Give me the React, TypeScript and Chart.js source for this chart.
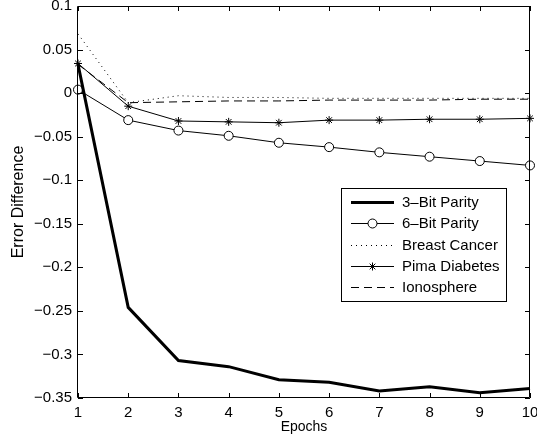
import React, { useEffect, useRef } from 'react';
import { Chart, registerables } from 'chart.js';

Chart.register(...registerables);

// ---- data ----
const epochs = [1, 2, 3, 4, 5, 6, 7, 8, 9, 10];
const parity3 = [0.033, -0.246, -0.307, -0.314, -0.329, -0.332, -0.342, -0.337, -0.344, -0.339];
const parity6 = [0.004, -0.031, -0.043, -0.049, -0.057, -0.062, -0.068, -0.073, -0.078, -0.083];
const breastCancer = [0.068, -0.011, -0.003, -0.005, -0.005, -0.006, -0.006, -0.006, -0.006, -0.006];
const pimaDiabetes = [0.034, -0.015, -0.032, -0.033, -0.034, -0.031, -0.031, -0.030, -0.030, -0.029];
const ionosphere = [0.033, -0.011, -0.010, -0.009, -0.009, -0.008, -0.008, -0.008, -0.007, -0.007];
const seriesNames = ['3\u2013Bit Parity', '6\u2013Bit Parity', 'Breast Cancer', 'Pima Diabetes', 'Ionosphere'];
const yTicks = [0.1, 0.05, 0, -0.05, -0.1, -0.15, -0.2, -0.25, -0.3, -0.35];
const xTicks = epochs;
const xTitle = 'Epochs';
const yTitle = 'Error Difference';

const FONT = '"Liberation Sans", Arial, Helvetica, sans-serif';
const FS = 15;

function fmt(v: number): string {
  const r = Math.round(v * 100) / 100;
  return r < 0 ? '\u2212' + String(Math.abs(r)) : String(r);
}

function pts(values: number[]) {
  return epochs.map((e, i) => ({ x: e, y: values[i] }));
}

function drawMarker(ctx: CanvasRenderingContext2D, style: string, x: number, y: number, r: number) {
  ctx.save();
  ctx.strokeStyle = '#000';
  ctx.lineWidth = 1;
  ctx.setLineDash([]);
  if (style === 'circle') {
    ctx.beginPath();
    ctx.arc(x, y, r, 0, Math.PI * 2);
    ctx.fillStyle = '#fff';
    ctx.fill();
    ctx.stroke();
  } else if (style === 'star') {
    ctx.beginPath();
    for (let k = 0; k < 4; k++) {
      const a = (k * Math.PI) / 4;
      ctx.moveTo(x - Math.cos(a) * r, y - Math.sin(a) * r);
      ctx.lineTo(x + Math.cos(a) * r, y + Math.sin(a) * r);
    }
    ctx.stroke();
  }
  ctx.restore();
}

const framePlugin = {
  id: 'matlabFrame',
  afterDatasetsDraw(chart: any) {
    const { ctx, chartArea: ca } = chart;
    const xs = chart.scales.x;
    const ys = chart.scales.y;
    const L = 5;
    ctx.save();
    ctx.strokeStyle = '#000';
    ctx.lineWidth = 1;
    ctx.setLineDash([]);
    ctx.beginPath();
    ctx.rect(Math.round(ca.left) - 0.5, Math.round(ca.top) + 0.5, Math.round(ca.right - ca.left), Math.round(ca.bottom - ca.top) - 1);
    for (const t of xTicks) {
      const px = Math.round(xs.getPixelForValue(t)) + 0.5;
      ctx.moveTo(px, ca.bottom);
      ctx.lineTo(px, ca.bottom - L);
      ctx.moveTo(px, ca.top);
      ctx.lineTo(px, ca.top + L);
    }
    for (const t of yTicks) {
      const py = Math.round(ys.getPixelForValue(t)) + 0.5;
      ctx.moveTo(ca.left, py);
      ctx.lineTo(ca.left + L, py);
      ctx.moveTo(ca.right, py);
      ctx.lineTo(ca.right - L, py);
    }
    ctx.stroke();
    ctx.restore();
  },
};

const legendPlugin = {
  id: 'matlabLegend',
  afterDraw(chart: any) {
    const { ctx, chartArea: ca } = chart;
    const boxR = ca.right - 24;
    const boxT = ca.top + 182;
    const boxW = 165;
    const boxH = 113;
    const boxL = boxR - boxW;
    ctx.save();
    ctx.fillStyle = '#fff';
    ctx.fillRect(boxL, boxT, boxW, boxH);
    ctx.strokeStyle = '#000';
    ctx.lineWidth = 1;
    ctx.setLineDash([]);
    ctx.strokeRect(Math.round(boxL) + 0.5, Math.round(boxT) + 0.5, boxW, boxH);
    chart.data.datasets.forEach((ds: any, i: number) => {
      const y = Math.round(boxT + 14 + i * 21.3) + 0.5;
      const x0 = boxL + 10;
      const x1 = boxL + 53;
      ctx.save();
      ctx.strokeStyle = '#000';
      ctx.lineWidth = ds.borderWidth;
      ctx.setLineDash(ds.borderDash || []);
      ctx.beginPath();
      ctx.moveTo(x0, y);
      ctx.lineTo(x1, y);
      ctx.stroke();
      ctx.restore();
      if (ds.pointRadius > 0) drawMarker(ctx, ds.pointStyle, (x0 + x1) / 2, y, ds.pointRadius);
      ctx.fillStyle = '#000';
      ctx.font = `${FS}px ${FONT}`;
      ctx.textAlign = 'left';
      ctx.textBaseline = 'middle';
      ctx.fillText(ds.label, boxL + 61, y);
    });
    ctx.restore();
  },
};

export default function App() {
  const ref = useRef<HTMLCanvasElement | null>(null);
  useEffect(() => {
    document.body.style.margin = '0';
    const canvas = ref.current;
    if (!canvas) return;
    const base = {
      borderColor: '#000',
      backgroundColor: '#000',
      tension: 0,
      clip: false as any,
      pointBorderColor: '#000',
      pointBorderWidth: 1,
      pointHoverRadius: 0,
    };
    const chart = new Chart(canvas, {
      type: 'line',
      data: {
        datasets: [
          { ...base, label: seriesNames[0], data: pts(parity3), borderWidth: 3, pointRadius: 0 },
          { ...base, label: seriesNames[1], data: pts(parity6), borderWidth: 1, pointRadius: 4.5, pointStyle: 'circle', pointBackgroundColor: '#fff' },
          { ...base, label: seriesNames[2], data: pts(breastCancer), borderWidth: 1, borderDash: [1, 4], pointRadius: 0 },
          { ...base, label: seriesNames[3], data: pts(pimaDiabetes), borderWidth: 1, pointRadius: 4, pointStyle: 'star' },
          { ...base, label: seriesNames[4], data: pts(ionosphere), borderWidth: 1, borderDash: [8, 5], pointRadius: 0 },
        ] as any,
      },
      options: {
        animation: false,
        responsive: false,
        devicePixelRatio: 1,
        layout: { padding: { top: 6, right: 7, left: 0, bottom: 0 } },
        plugins: { legend: { display: false }, tooltip: { enabled: false } },
        events: [],
        scales: {
          x: {
            type: 'linear',
            min: 1,
            max: 10,
            grid: { display: false, drawTicks: false },
            border: { display: false },
            afterBuildTicks: (s: any) => { s.ticks = xTicks.map((v) => ({ value: v })); },
            afterFit: (s: any) => { s.height = 46; s.paddingLeft = 0; s.paddingRight = 0; },
            ticks: {
              color: '#000',
              padding: 6,
              maxRotation: 0,
              autoSkip: false,
              font: { family: FONT, size: FS },
              callback: (v: any) => String(v),
            },
            title: { display: true, text: xTitle, color: '#000', font: { family: FONT, size: 14 }, padding: { top: 0, bottom: 8 } },
          },
          y: {
            type: 'linear',
            min: -0.35,
            max: 0.1,
            grid: { display: false, drawTicks: false },
            border: { display: false },
            afterBuildTicks: (s: any) => { s.ticks = yTicks.map((v) => ({ value: v })); },
            afterFit: (s: any) => { s.width = 78; s.paddingTop = 0; s.paddingBottom = 0; },
            ticks: {
              color: '#000',
              padding: 6,
              autoSkip: false,
              font: { family: FONT, size: FS },
              callback: (v: any) => fmt(Number(v)),
            },
            title: { display: true, text: yTitle, color: '#000', font: { family: FONT, size: 16 }, padding: { top: 9, bottom: 0 } },
          },
        },
      } as any,
      plugins: [framePlugin, legendPlugin],
    });
    return () => chart.destroy();
  }, []);
  return <canvas ref={ref} width={537} height={444} style={{ display: 'block' }} />;
}
